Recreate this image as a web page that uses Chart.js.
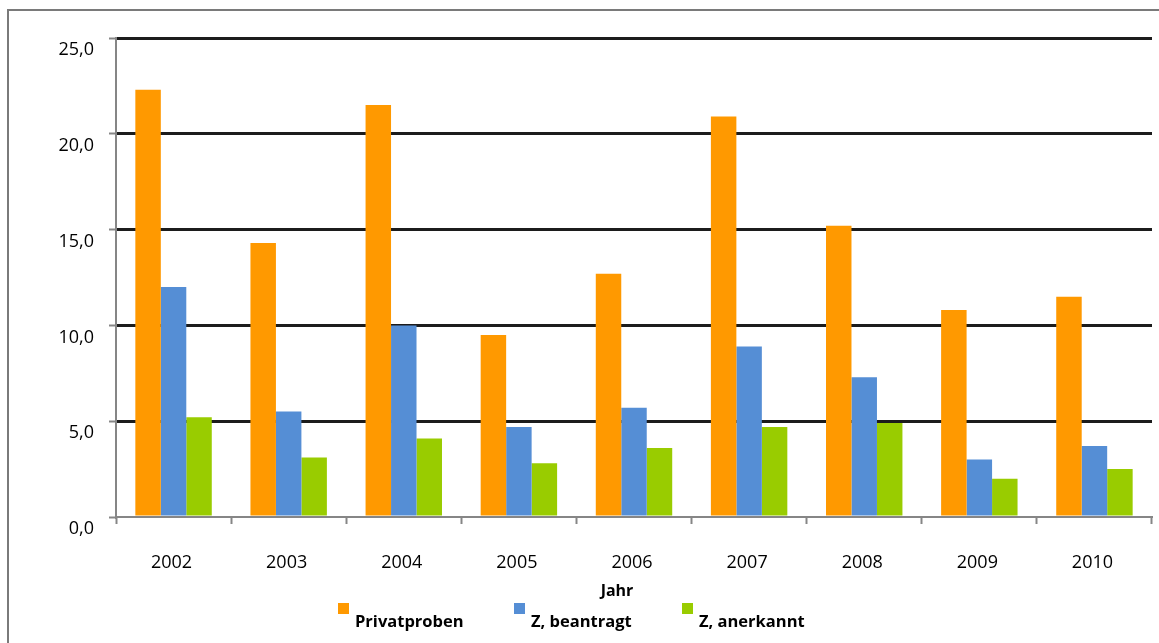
<!DOCTYPE html>
<html>
<head>
<meta charset="utf-8">
<title>Privatproben und Zulassungen 2002–2010</title>
<script src="https://cdn.jsdelivr.net/npm/chart.js@4"></script>
<style>
  html, body { margin: 0; padding: 0; background: #fff; }
  #wrap { position: relative; width: 1159px; height: 643px; overflow: hidden; }
  #frame { position: absolute; left: 7px; top: 9px; width: 1200px; height: 700px;
           border-left: 2px solid #7a7a7a; border-top: 2px solid #7a7a7a; }
  canvas { position: absolute; left: 0; top: 0; }
</style>
</head>
<body>
<div id="wrap">
  <div id="frame"></div>
  <canvas id="chart" width="1159" height="643"></canvas>
</div>
<script>
// Jahre und Werte je Reihe
const years = ['2002', '2003', '2004', '2005', '2006', '2007', '2008', '2009', '2010'];
const privatproben = [22.3, 14.3, 21.5, 9.5, 12.7, 20.9, 15.2, 10.8, 11.5];
const zBeantragt   = [12.0, 5.5, 10.0, 4.7, 5.7, 8.9, 7.3, 3.0, 3.7];
const zAnerkannt   = [5.2, 3.1, 4.1, 2.8, 3.6, 4.7, 4.9, 2.0, 2.5];
const seriesNames  = ['Privatproben', 'Z, beantragt', 'Z, anerkannt'];
const xTitle = 'Jahr';

const FONT = "'Open Sans', 'Noto Sans', sans-serif";
const AXIS_GREY = '#868686';

// Legende und Achsentitel unterhalb des Diagramms
const bottomLegend = {
  id: 'bottomLegend',
  afterDraw(chart) {
    const ctx = chart.ctx;
    ctx.save();
    ctx.fillStyle = '#000';
    ctx.font = 'bold 16px ' + FONT;
    ctx.textAlign = 'center';
    ctx.textBaseline = 'alphabetic';
    ctx.fillText(xTitle, 617, 596);

    ctx.font = 'bold 16.5px ' + FONT;
    ctx.textAlign = 'left';
    const itemLeft = [338, 514, 682];
    chart.data.datasets.forEach((ds, i) => {
      const x = itemLeft[i];
      ctx.fillStyle = ds.backgroundColor;
      ctx.fillRect(x, 603, 11, 11);
      ctx.fillStyle = '#000';
      ctx.fillText(ds.label, x + 17, 627);
    });
    ctx.restore();
  }
};

new Chart(document.getElementById('chart'), {
  type: 'bar',
  data: {
    labels: years,
    datasets: [
      { label: seriesNames[0], data: privatproben, backgroundColor: '#FF9900' },
      { label: seriesNames[1], data: zBeantragt,   backgroundColor: '#558ED5' },
      { label: seriesNames[2], data: zAnerkannt,   backgroundColor: '#99CC00' }
    ]
  },
  options: {
    responsive: false,
    animation: false,
    barPercentage: 1,
    categoryPercentage: 0.664,
    layout: { padding: { left: 0, right: 7, top: 38, bottom: 66 } },
    plugins: {
      legend: { display: false },
      tooltip: { enabled: false }
    },
    scales: {
      x: {
        grid: {
          offset: true,
          drawOnChartArea: false,
          drawTicks: true,
          tickLength: 7,
          tickColor: AXIS_GREY,
          tickWidth: 2
        },
        border: { color: AXIS_GREY, width: 2 },
        ticks: {
          color: '#000',
          font: { family: FONT, size: 18 },
          padding: 28,
          labelOffset: -2,
          maxRotation: 0
        },
        afterFit(scale) { scale.height = 60; }
      },
      y: {
        min: 0,
        max: 25,
        ticks: {
          stepSize: 5,
          color: '#000',
          font: { family: FONT, size: 18 },
          padding: 15,
          labelOffset: 12,
          callback: v => v.toFixed(1).replace('.', ',')
        },
        grid: {
          color: ctx => (ctx.tick && ctx.tick.value === 0) ? 'rgba(0,0,0,0)' : '#1c1c1c',
          lineWidth: 3,
          tickColor: AXIS_GREY,
          tickWidth: 2,
          tickLength: 7
        },
        border: { color: AXIS_GREY, width: 2 },
        afterFit(scale) { scale.width = 116; }
      }
    }
  },
  plugins: [bottomLegend]
});
</script>
</body>
</html>
